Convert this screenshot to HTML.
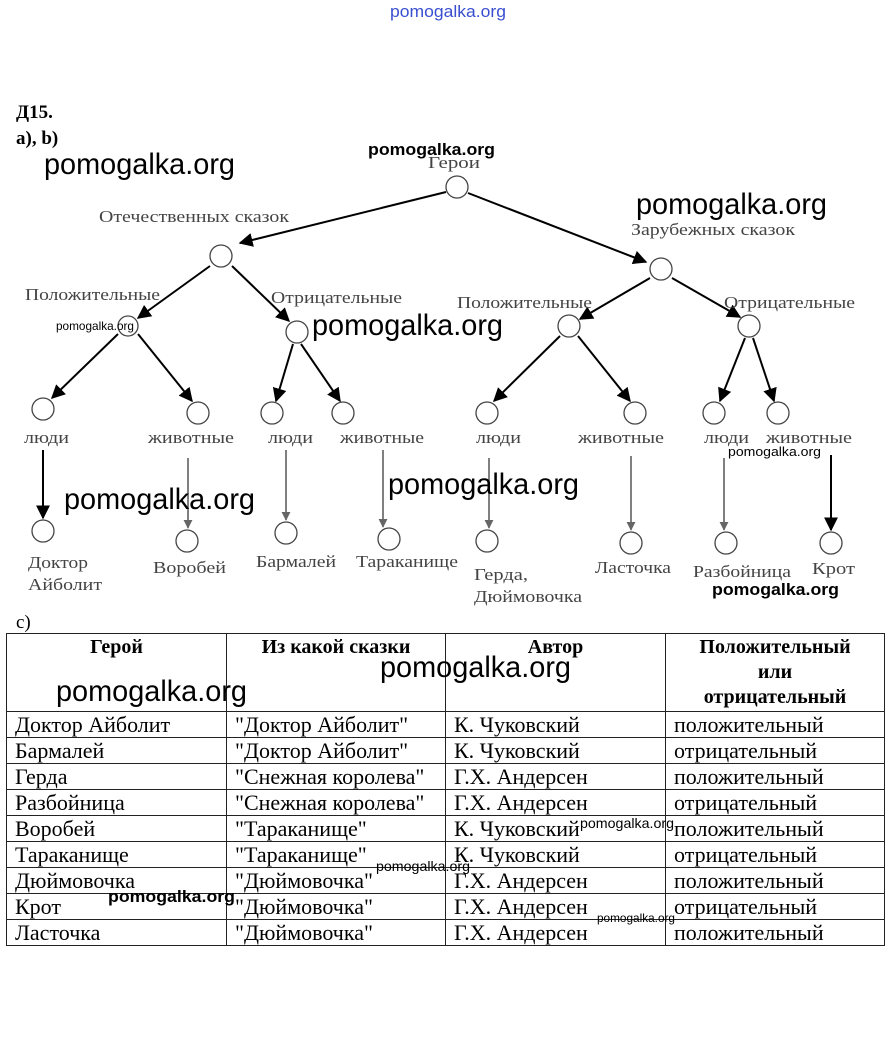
<!DOCTYPE html>
<html><head><meta charset="utf-8"><style>
body{margin:0;background:#fff;width:892px;height:1040px;overflow:hidden;position:relative;font-family:"Liberation Serif",serif}
svg{position:absolute;left:0;top:0}
table{position:absolute;left:6px;top:633px;border-collapse:collapse;font-size:22px;width:879px;table-layout:fixed}
td{border:1px solid #222;padding:0 0 0 8px;height:25px;line-height:25px;white-space:nowrap;overflow:hidden}
th{border:1px solid #222;font-weight:bold;vertical-align:top;text-align:center;height:75px;line-height:25px;font-size:20px}
</style></head><body>
<svg width="892" height="1040" viewBox="0 0 892 1040">
<defs><marker id="a" viewBox="0 0 10 10" refX="9" refY="5" markerWidth="7" markerHeight="7" orient="auto"><path d="M0,0L10,5L0,10z" fill="#000"/></marker>
<marker id="g" viewBox="0 0 10 10" refX="9" refY="5" markerWidth="6" markerHeight="6" orient="auto"><path d="M0,0L10,5L0,10z" fill="#666"/></marker></defs>
<text x="390" y="17" font-family="Liberation Sans" font-size="17" fill="#3a4fd0" textLength="116" lengthAdjust="spacingAndGlyphs">pomogalka.org</text>
<text x="16" y="118" font-size="19" font-weight="bold">Д15.</text>
<text x="16" y="144" font-size="19" font-weight="bold">a), b)</text>
<text x="16" y="628" font-size="19">c)</text>
<g fill="none" stroke="#444" stroke-width="1.3">
<circle cx="457" cy="187" r="11"/><circle cx="221" cy="256" r="11"/><circle cx="661" cy="269" r="11"/>
<circle cx="128" cy="326" r="10"/><circle cx="297" cy="332" r="11"/><circle cx="569" cy="326" r="11"/><circle cx="749" cy="326" r="11"/>
<circle cx="43" cy="409" r="11"/><circle cx="198" cy="413" r="11"/><circle cx="272" cy="413" r="11"/><circle cx="343" cy="413" r="11"/>
<circle cx="487" cy="413" r="11"/><circle cx="635" cy="413" r="11"/><circle cx="714" cy="413" r="11"/><circle cx="778" cy="413" r="11"/>
<circle cx="43" cy="531" r="11"/><circle cx="187" cy="541" r="11"/><circle cx="286" cy="533" r="11"/><circle cx="389" cy="539" r="11"/>
<circle cx="487" cy="541" r="11"/><circle cx="631" cy="543" r="11"/><circle cx="726" cy="543" r="11"/><circle cx="831" cy="543" r="11"/>
</g>
<g stroke="#000" stroke-width="2" marker-end="url(#a)">
<line x1="446" y1="192" x2="240" y2="243"/><line x1="468" y1="193" x2="646" y2="262"/>
<line x1="210" y1="266" x2="138" y2="318"/><line x1="232" y1="266" x2="289" y2="321"/>
<line x1="650" y1="278" x2="580" y2="319"/><line x1="672" y1="278" x2="740" y2="317"/>
<line x1="118" y1="334" x2="52" y2="398"/><line x1="138" y1="334" x2="192" y2="401"/>
<line x1="293" y1="344" x2="276" y2="401"/><line x1="301" y1="344" x2="340" y2="401"/>
<line x1="560" y1="336" x2="494" y2="401"/><line x1="578" y1="336" x2="630" y2="401"/>
<line x1="745" y1="338" x2="720" y2="401"/><line x1="753" y1="338" x2="774" y2="401"/>
<line x1="43" y1="450" x2="43" y2="518"/><line x1="831" y1="455" x2="831" y2="530"/>
</g>
<g stroke="#555" stroke-width="1.5" marker-end="url(#g)">
<line x1="188" y1="458" x2="188" y2="528"/><line x1="286" y1="450" x2="286" y2="520"/><line x1="383" y1="450" x2="383" y2="527"/>
<line x1="489" y1="458" x2="489" y2="528"/><line x1="631" y1="456" x2="631" y2="530"/><line x1="724" y1="458" x2="724" y2="530"/>
</g>
<g font-size="17" fill="#444">
<text x="428" y="168" textLength="52" lengthAdjust="spacingAndGlyphs">Герои</text>
<text x="99" y="222" textLength="190" lengthAdjust="spacingAndGlyphs">Отечественных сказок</text>
<text x="631" y="235" textLength="164" lengthAdjust="spacingAndGlyphs">Зарубежных сказок</text>
<text x="25" y="300" textLength="135" lengthAdjust="spacingAndGlyphs">Положительные</text><text x="271" y="303" textLength="131" lengthAdjust="spacingAndGlyphs">Отрицательные</text>
<text x="457" y="308" textLength="135" lengthAdjust="spacingAndGlyphs">Положительные</text><text x="724" y="308" textLength="131" lengthAdjust="spacingAndGlyphs">Отрицательные</text>
<text x="24" y="443" textLength="45" lengthAdjust="spacingAndGlyphs">люди</text><text x="148" y="443" textLength="86" lengthAdjust="spacingAndGlyphs">животные</text><text x="268" y="443" textLength="45" lengthAdjust="spacingAndGlyphs">люди</text><text x="340" y="443" textLength="84" lengthAdjust="spacingAndGlyphs">животные</text>
<text x="476" y="443" textLength="45" lengthAdjust="spacingAndGlyphs">люди</text><text x="578" y="443" textLength="86" lengthAdjust="spacingAndGlyphs">животные</text><text x="704" y="443" textLength="45" lengthAdjust="spacingAndGlyphs">люди</text><text x="766" y="443" textLength="86" lengthAdjust="spacingAndGlyphs">животные</text>
<text x="28" y="568" textLength="60" lengthAdjust="spacingAndGlyphs">Доктор</text><text x="28" y="590" textLength="74" lengthAdjust="spacingAndGlyphs">Айболит</text>
<text x="153" y="573" textLength="73" lengthAdjust="spacingAndGlyphs">Воробей</text><text x="256" y="567" textLength="80" lengthAdjust="spacingAndGlyphs">Бармалей</text><text x="356" y="567" textLength="102" lengthAdjust="spacingAndGlyphs">Тараканище</text>
<text x="474" y="580" textLength="54" lengthAdjust="spacingAndGlyphs">Герда,</text><text x="474" y="602" textLength="108" lengthAdjust="spacingAndGlyphs">Дюймовочка</text>
<text x="595" y="573" textLength="76" lengthAdjust="spacingAndGlyphs">Ласточка</text><text x="693" y="577" textLength="98" lengthAdjust="spacingAndGlyphs">Разбойница</text><text x="812" y="574" textLength="43" lengthAdjust="spacingAndGlyphs">Крот</text>
</g>
<g font-family="Liberation Sans" fill="#000">
<text x="368" y="155" font-size="17" font-weight="bold" textLength="127" lengthAdjust="spacingAndGlyphs">pomogalka.org</text>
<text x="44" y="174" font-size="30" textLength="191" lengthAdjust="spacingAndGlyphs">pomogalka.org</text>
<text x="636" y="214" font-size="30" textLength="191" lengthAdjust="spacingAndGlyphs">pomogalka.org</text>
<text x="56" y="330" font-size="12" textLength="78" lengthAdjust="spacingAndGlyphs">pomogalka.org</text>
<text x="312" y="335" font-size="30" textLength="191" lengthAdjust="spacingAndGlyphs">pomogalka.org</text>
<text x="728" y="456" font-size="13" textLength="93" lengthAdjust="spacingAndGlyphs">pomogalka.org</text>
<text x="388" y="494" font-size="30" textLength="191" lengthAdjust="spacingAndGlyphs">pomogalka.org</text>
<text x="64" y="509" font-size="30" textLength="191" lengthAdjust="spacingAndGlyphs">pomogalka.org</text>
<text x="712" y="595" font-size="17" font-weight="bold" textLength="127" lengthAdjust="spacingAndGlyphs">pomogalka.org</text>
</g>
</svg>
<table>
<colgroup><col style="width:220px"><col style="width:219px"><col style="width:220px"><col></colgroup>
<tr><th>Герой</th><th>Из какой сказки</th><th>Автор</th><th>Положительный<br>или<br>отрицательный</th></tr>
<tr><td>Доктор Айболит</td><td>"Доктор Айболит"</td><td>К. Чуковский</td><td>положительный</td></tr>
<tr><td>Бармалей</td><td>"Доктор Айболит"</td><td>К. Чуковский</td><td>отрицательный</td></tr>
<tr><td>Герда</td><td>"Снежная королева"</td><td>Г.Х. Андерсен</td><td>положительный</td></tr>
<tr><td>Разбойница</td><td>"Снежная королева"</td><td>Г.Х. Андерсен</td><td>отрицательный</td></tr>
<tr><td>Воробей</td><td>"Тараканище"</td><td>К. Чуковский</td><td>положительный</td></tr>
<tr><td>Тараканище</td><td>"Тараканище"</td><td>К. Чуковский</td><td>отрицательный</td></tr>
<tr><td>Дюймовочка</td><td>"Дюймовочка"</td><td>Г.Х. Андерсен</td><td>положительный</td></tr>
<tr><td>Крот</td><td>"Дюймовочка"</td><td>Г.Х. Андерсен</td><td>отрицательный</td></tr>
<tr><td>Ласточка</td><td>"Дюймовочка"</td><td>Г.Х. Андерсен</td><td>положительный</td></tr>
</table>
<svg width="892" height="1040" style="pointer-events:none">
<g font-family="Liberation Sans" fill="#000">
<text x="56" y="701" font-size="30" textLength="191" lengthAdjust="spacingAndGlyphs">pomogalka.org</text>
<text x="380" y="677" font-size="30" textLength="191" lengthAdjust="spacingAndGlyphs">pomogalka.org</text>
<text x="580" y="828" font-size="14" textLength="94" lengthAdjust="spacingAndGlyphs">pomogalka.org</text>
<text x="376" y="871" font-size="14" textLength="94" lengthAdjust="spacingAndGlyphs">pomogalka.org</text>
<text x="108" y="902" font-size="17" font-weight="bold" textLength="127" lengthAdjust="spacingAndGlyphs">pomogalka.org</text>
<text x="597" y="922" font-size="12" textLength="78" lengthAdjust="spacingAndGlyphs">pomogalka.org</text>
</g></svg>
</body></html>
